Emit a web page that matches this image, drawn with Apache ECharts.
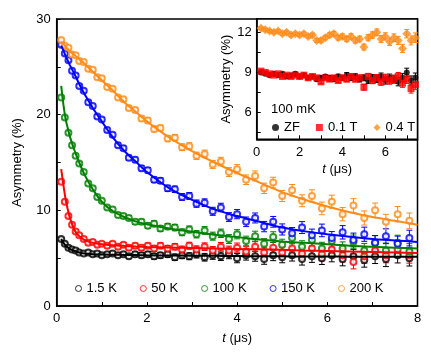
<!DOCTYPE html>
<html><head><meta charset="utf-8">
<script src="https://cdn.jsdelivr.net/npm/echarts@6/dist/echarts.min.js"></script>
<style>html,body{margin:0;padding:0;background:#fff}#c{width:431px;height:354px}</style>
</head><body><div id="c"></div>
<script>
// ---------- Main panel data ----------
const tMain = [0.10,0.18,0.26,0.34,0.42,0.50,0.60,0.70,0.80,0.90,1.00,1.12,1.24,1.36,1.48,1.60,1.74,1.88,2.02,2.16,2.30,2.46,2.62,2.78,2.94,3.10,3.28,3.46,3.64,3.82,4.00,4.20,4.40,4.60,4.80,5.00,5.22,5.44,5.66,5.88,6.10,6.34,6.58,6.82,7.06,7.30,7.56,7.82];
const errMain = [0.15,0.15,0.15,0.15,0.18,0.18,0.18,0.2,0.2,0.2,0.2,0.22,0.22,0.24,0.24,0.25,0.26,0.27,0.28,0.3,0.3,0.32,0.33,0.35,0.36,0.38,0.4,0.42,0.44,0.46,0.48,0.5,0.52,0.54,0.56,0.58,0.6,0.62,0.64,0.66,0.68,0.7,0.72,0.74,0.76,0.78,0.8,0.82];
const a15K = [7.0,6.5,6.1,5.9,5.8,5.6,5.5,5.6,5.4,5.5,5.3,5.4,5.5,5.3,5.4,5.2,5.4,5.3,5.4,5.2,5.3,5.4,5.1,5.3,5.2,5.4,5.1,5.3,5.2,5.4,5.0,5.3,5.2,4.9,5.3,5.1,5.3,4.9,5.2,5.0,5.3,4.9,5.2,4.8,5.2,4.9,5.3,5.0];
const a50K = [13.0,10.9,9.4,8.5,7.8,7.4,7.0,6.6,6.7,6.4,6.5,6.3,6.5,6.2,6.4,6.1,6.3,6.1,6.3,6.0,6.3,6.0,6.2,5.9,6.3,5.9,6.2,5.8,6.2,5.8,6.1,5.7,6.2,5.6,6.1,5.6,6.0,5.5,6.0,5.4,5.9,5.3,4.6,5.2,5.8,5.3,5.9,5.3];
const a100K = [21.8,19.7,18.1,16.8,15.7,14.9,14.0,12.8,12.3,11.4,11.0,10.3,10.1,9.5,9.4,9.2,8.8,8.8,8.4,8.6,8.1,8.3,8.2,7.7,8.0,7.5,7.9,7.3,7.6,7.0,7.5,6.8,7.3,6.5,7.2,6.4,7.1,6.2,6.9,6.0,6.8,6.0,6.7,5.8,6.6,5.8,6.6,5.7];
const a150K = [27.3,26.4,25.7,24.6,24.1,23.0,22.5,21.3,20.9,19.8,19.5,18.4,17.9,16.8,16.5,15.5,15.3,14.4,14.2,13.2,13.1,12.3,12.2,11.4,11.5,10.7,10.8,9.9,10.3,9.3,9.6,8.8,9.2,8.3,8.8,8.0,7.6,8.2,7.4,7.9,7.1,7.7,6.9,7.5,6.6,7.3,6.5,7.1];
const a200K = [27.8,27.2,27.0,26.3,26.2,25.6,25.5,24.8,24.7,23.9,23.8,22.9,22.7,21.8,21.6,20.7,20.5,19.6,19.4,18.5,18.6,17.5,17.6,16.6,16.7,15.7,15.9,14.8,15.1,14.0,14.3,13.2,13.6,12.3,12.9,11.5,12.1,11.0,11.5,10.2,10.9,9.6,10.5,9.2,10.0,8.8,9.6,8.9];
const tFit = [0.1,0.15,0.2,0.25,0.3,0.4,0.5,0.6,0.7,0.8,1.0,1.25,1.5,1.75,2.0,2.5,3.0,3.5,4.0,4.5,5.0,5.5,6.0,6.5,7.0,7.5,8.0];
const fit15K = [7.0,6.6,6.3,6.1,5.95,5.75,5.6,5.5,5.45,5.42,5.38,5.36,5.34,5.32,5.3,5.28,5.26,5.24,5.22,5.2,5.19,5.18,5.17,5.16,5.15,5.15,5.15];
const fit50K = [14.3,12.6,11.1,10.0,9.1,7.9,7.3,6.95,6.75,6.6,6.45,6.35,6.28,6.22,6.18,6.12,6.07,6.02,5.97,5.92,5.87,5.8,5.75,5.7,5.65,5.6,5.55];
const fit100K = [23.0,21.0,19.5,18.5,17.6,16.2,15.0,13.9,13.0,12.2,10.9,9.9,9.3,8.85,8.55,8.1,7.75,7.45,7.2,6.95,6.75,6.6,6.45,6.3,6.2,6.1,6.0];
const fit150K = [27.2,26.7,26.1,25.6,25.1,24.2,23.2,22.3,21.5,20.7,19.3,17.6,16.2,15.1,14.0,12.3,11.1,10.1,9.4,8.8,8.2,7.8,7.5,7.25,7.0,6.85,6.7];
const fit200K = [27.6,27.4,27.1,26.85,26.6,26.2,25.8,25.4,24.95,24.5,23.6,22.5,21.3,20.3,19.3,17.6,16.2,15.0,13.9,12.9,11.9,11.1,10.4,9.8,9.3,8.9,8.5];
const mainNames = ['1.5 K','50 K','100 K','150 K','200 K'];
const mainXTicks = [0,1,2,3,4,5,6,7,8];
const mainXLabels = [0,2,4,6,8];
const mainYTicks = [0,5,10,15,20,25,30];
const mainYLabels = [0,10,20,30];

// ---------- Inset data (100 mK) ----------
const tIn = [0.2,0.4,0.6,0.8,1.0,1.2,1.4,1.6,1.8,2.0,2.2,2.4,2.6,2.8,3.0,3.2,3.4,3.6,3.8,4.0,4.2,4.4,4.6,4.8,5.0,5.2,5.4,5.6,5.8,6.0,6.2,6.4,6.6,6.8,7.0,7.2,7.4];
const errIn = [0.1,0.1,0.1,0.1,0.1,0.11,0.11,0.12,0.12,0.12,0.13,0.13,0.14,0.14,0.15,0.15,0.16,0.17,0.17,0.18,0.19,0.2,0.2,0.21,0.22,0.23,0.24,0.25,0.26,0.27,0.28,0.29,0.3,0.31,0.32,0.34,0.36];
const inZF = [9.0,8.9,8.8,8.9,8.8,8.9,8.7,8.8,8.9,8.7,8.8,8.6,8.7,8.5,8.6,8.7,8.6,8.5,8.7,8.6,8.8,8.6,8.7,8.5,8.6,8.4,8.6,8.5,8.7,8.4,8.6,8.5,8.3,8.6,9.0,8.4,8.6];
const in01T = [9.1,9.0,8.9,8.8,8.9,8.7,8.8,8.7,8.8,8.7,8.8,8.6,8.7,8.6,8.3,8.6,8.5,8.6,8.4,8.6,8.5,8.7,8.5,8.6,7.9,8.7,8.4,8.6,8.3,8.6,8.4,8.5,8.7,8.2,8.5,7.8,8.1];
const in04T = [12.3,12.2,12.1,12.0,12.1,11.9,12.0,11.8,11.9,11.8,11.9,11.7,11.8,11.4,11.4,11.6,11.8,11.9,11.6,11.7,11.5,11.7,11.4,11.5,10.9,11.6,11.8,12.0,11.5,11.7,11.3,11.6,11.4,10.8,11.9,11.4,11.6];
const inNames = ['ZF','0.1 T','0.4 T'];
const inXTicks = [0,1,2,3,4,5,6,7];
const inXLabels = [0,2,4,6];
const inYTicks = [4.5,6,7.5,9,10.5,12];
const inYLabels = [6,9,12];

// ---------- build ----------
const FONT = 'Liberation Sans, Arial, Helvetica, sans-serif';
const colMain = ['#000000','#FF0000','#008000','#0000FF','#FF8C1A'];
const ptsMain = [a15K,a50K,a100K,a150K,a200K];
const fitsMain = [fit15K,fit50K,fit100K,fit150K,fit200K];
const colIn = ['#000000','#FF0000','#FF8C1A'];
const ptsIn = [inZF,in01T,in04T];
const symIn = ['circle','rect','diamond'];
const symSizeIn = [6,7,9];

function errSeries(xs, ys, es, color, xi, yi, cap){
  return {
    type:'custom', xAxisIndex:xi, yAxisIndex:yi, clip:true, silent:true, z:2,
    data: xs.map((x,i)=>[x, ys[i], es[i]]),
    renderItem:function(params, api){
      const x=api.value(0), y=api.value(1), e=api.value(2);
      const p1=api.coord([x,y+e]), p2=api.coord([x,y-e]);
      const st={stroke:color,lineWidth:1};
      return {type:'group',children:[
        {type:'line',shape:{x1:p1[0],y1:p1[1],x2:p2[0],y2:p2[1]},style:st},
        {type:'line',shape:{x1:p1[0]-cap,y1:p1[1],x2:p1[0]+cap,y2:p1[1]},style:st},
        {type:'line',shape:{x1:p2[0]-cap,y1:p2[1],x2:p2[0]+cap,y2:p2[1]},style:st}
      ]};
    }
  };
}

const series = [];
for(let i=0;i<5;i++){
  series.push(errSeries(tMain, ptsMain[i], errMain, colMain[i], 0, 0, 3));
  series.push({type:'scatter', name:mainNames[i], xAxisIndex:0, yAxisIndex:0, z:3,
    symbol:'emptyCircle', symbolSize:6,
    itemStyle:{color:colMain[i], borderColor:colMain[i], borderWidth:1},
    data: tMain.map((x,j)=>[x, ptsMain[i][j]])});
}
for(let i=0;i<5;i++){
  series.push({type:'line', xAxisIndex:0, yAxisIndex:0, z:4, smooth:0.3, symbol:'none',
    lineStyle:{color:colMain[i], width:2}, silent:true,
    data: tFit.map((x,j)=>[x, fitsMain[i][j]])});
}
for(let i=0;i<3;i++){
  series.push(errSeries(tIn, ptsIn[i], errIn, colIn[i], 1, 1, 2.5));
  series.push({type:'scatter', name:inNames[i], xAxisIndex:1, yAxisIndex:1, z:3,
    symbol:symIn[i], symbolSize:symSizeIn[i],
    itemStyle:{color:colIn[i]},
    data: tIn.map((x,j)=>[x, ptsIn[i][j]])});
}

const axisCommon = {
  axisLine:{show:true,lineStyle:{color:'#000',width:1.5}},
  axisTick:{show:true,inside:true,length:4,lineStyle:{color:'#000',width:1}},
  splitLine:{show:false},
  axisLabel:{color:'#000',fontSize:13,fontFamily:FONT},
  nameTextStyle:{color:'#000',fontSize:13,fontFamily:FONT,
    rich:{i:{fontStyle:'italic',fontSize:13,fontFamily:FONT,color:'#000'}}}
};
function ax(extra){ return Object.assign({}, JSON.parse(JSON.stringify(axisCommon)), extra); }

const xMain = ax({type:'value', gridIndex:0, min:0, max:8, name:'{i|t} (μs)', nameLocation:'middle', nameGap:26});
xMain.axisTick.customValues = mainXTicks; xMain.axisLabel.customValues = mainXLabels; xMain.axisLabel.margin=6;
const yMain = ax({type:'value', gridIndex:0, min:0, max:30, name:'Asymmetry (%)', nameLocation:'middle', nameGap:33});
yMain.axisTick.customValues = mainYTicks; yMain.axisLabel.customValues = mainYLabels; yMain.axisLabel.margin=6;
const xIn = ax({type:'value', gridIndex:1, min:0, max:7.5, name:'{i|t} (μs)', nameLocation:'middle', nameGap:24});
xIn.axisTick.customValues = inXTicks; xIn.axisLabel.customValues = inXLabels; xIn.axisLabel.margin=7;
const yIn = ax({type:'value', gridIndex:1, min:4, max:13, name:'Asymmetry (%)', nameLocation:'middle', nameGap:19});
yIn.axisTick.customValues = inYTicks; yIn.axisLabel.customValues = inYLabels; yIn.axisLabel.margin=5;

const option = {
  animation:false,
  backgroundColor:'#fff',
  textStyle:{fontFamily:FONT},
  title:{text:'100 mK', left:266, top:98, textStyle:{fontSize:13,fontWeight:'normal',color:'#000',fontFamily:FONT}},
  grid:[
    {left:56.7, top:19, width:360.8, height:287, show:true, borderColor:'#000', borderWidth:1.5, backgroundColor:'transparent'},
    {left:256.7, top:19, width:160.8, height:120.3, show:true, borderColor:'#000', borderWidth:1.5, backgroundColor:'#fff'}
  ],
  xAxis:[xMain, xIn],
  yAxis:[yMain, yIn],
  legend:[
    {data:mainNames.map(n=>({name:n, icon:'circle', itemStyle:{color:'#fff', borderWidth:1}})), left:70, top:277, itemGap:23, itemWidth:6, itemHeight:6,
     textStyle:{fontSize:13,color:'#000',fontFamily:FONT}, selectedMode:false},
    {data:inNames, left:267, top:116, itemGap:16, itemWidth:7, itemHeight:7,
     textStyle:{fontSize:13,color:'#000',fontFamily:FONT}, selectedMode:false}
  ],
  series:series
};
const chart = echarts.init(document.getElementById('c'), null, {renderer:'canvas'});
chart.setOption(option);
</script></body></html>
